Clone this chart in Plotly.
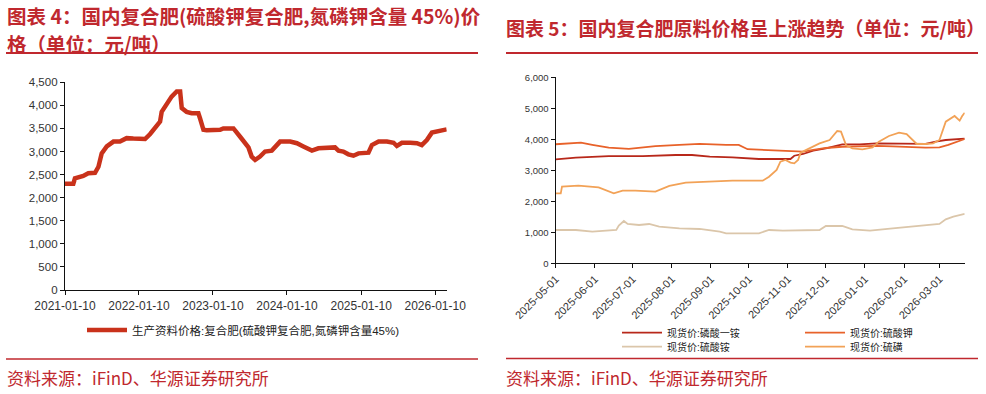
import plotly.graph_objects as go

# ---------------- data ----------------
left_dates = ["2021-01-10", "2021-02-20", "2021-02-28", "2021-04-10", "2021-05-05", "2021-06-07",
              "2021-06-24", "2021-07-02", "2021-07-10", "2021-08-04", "2021-09-06", "2021-10-08",
              "2021-11-10", "2021-12-13", "2022-02-09", "2022-03-06", "2022-04-07", "2022-04-24",
              "2022-05-02", "2022-05-19", "2022-06-04", "2022-06-20", "2022-07-15", "2022-08-01",
              "2022-08-09", "2022-09-02", "2022-09-27", "2022-10-30", "2022-11-07", "2022-11-24",
              "2022-12-10", "2023-02-14", "2023-03-02", "2023-04-21", "2023-05-24", "2023-06-26",
              "2023-07-04", "2023-07-20", "2023-08-06", "2023-08-30", "2023-09-24", "2023-10-27",
              "2023-11-21", "2023-12-07", "2024-01-26", "2024-02-28", "2024-03-31", "2024-05-12",
              "2024-06-13", "2024-07-16", "2024-08-10", "2024-09-03", "2024-09-20", "2024-10-14",
              "2024-11-08", "2024-12-03", "2024-12-28", "2025-01-30", "2025-02-15", "2025-03-04",
              "2025-04-06", "2025-05-17", "2025-06-19", "2025-07-05", "2025-07-30", "2025-09-09",
              "2025-10-12", "2025-11-05", "2025-11-30", "2025-12-25", "2026-01-18", "2026-02-12",
              "2026-03-08"]
left_values = [2300, 2300, 2420, 2470, 2530, 2540,
               2670, 2820, 2960, 3110, 3215, 3215,
               3290, 3280, 3270, 3380, 3540, 3650,
               3860, 3970, 4050, 4190, 4300, 4300,
               3940, 3860, 3830, 3830, 3720, 3470,
               3460, 3470, 3500, 3500, 3320, 3120,
               3090, 2890, 2820, 2890, 3000, 3020,
               3120, 3215, 3215, 3180, 3110, 3020,
               3070, 3080, 3105, 3090, 3020, 3000,
               2940, 2910, 2960, 2975, 2975, 3140,
               3215, 3215, 3190, 3120, 3190, 3190,
               3180, 3140, 3250, 3410, 3430, 3470,
               3480]
left_name = "生产资料价格:复合肥(硫酸钾复合肥,氮磷钾含量45%)"
left_tick_vals = ["2021-01-10", "2022-01-10", "2023-01-10", "2024-01-10", "2025-01-10", "2026-01-10"]
left_tick_text = ["2021-01-10", "2022-01-10", "2023-01-10", "2024-01-10", "2025-01-10", "2026-01-10"]

map_dates = ["2025-05-01", "2025-05-17", "2025-06-12", "2025-07-09", "2025-08-04", "2025-08-17",
             "2025-08-31", "2025-09-18", "2025-10-09", "2025-10-23", "2025-11-03", "2025-11-06",
             "2025-11-13", "2025-11-21", "2025-12-01", "2025-12-14", "2025-12-28", "2026-01-10",
             "2026-01-23", "2026-02-05", "2026-02-18", "2026-02-26", "2026-03-06", "2026-03-21"]
map_values = [3354, 3408, 3460, 3460, 3494, 3494,
              3440, 3418, 3365, 3365, 3365, 3470,
              3526, 3633, 3709, 3838, 3838, 3870,
              3870, 3850, 3850, 3924, 3977, 4020]

sop_dates = ["2025-05-01", "2025-05-17", "2025-05-21", "2025-05-30", "2025-06-12", "2025-06-28",
             "2025-07-11", "2025-07-19", "2025-08-07", "2025-08-23", "2025-09-13", "2025-09-23",
             "2025-09-30", "2025-10-09", "2025-10-23", "2025-11-05", "2025-11-13", "2025-11-21",
             "2025-12-01", "2025-12-14", "2025-12-28", "2026-01-10", "2026-01-23", "2026-02-05",
             "2026-02-18", "2026-03-01", "2026-03-08", "2026-03-21"]
sop_values = [3840, 3890, 3890, 3820, 3730, 3690,
              3740, 3780, 3820, 3850, 3820, 3820,
              3680, 3660, 3630, 3600, 3600, 3660,
              3720, 3760, 3780, 3790, 3770, 3740,
              3730, 3740, 3820, 4010]

as_dates = ["2025-05-01", "2025-05-17", "2025-05-30", "2025-06-18", "2025-06-20", "2025-06-24",
            "2025-06-27", "2025-07-06", "2025-07-14", "2025-07-22", "2025-08-07", "2025-08-23",
            "2025-09-08", "2025-09-13", "2025-10-09", "2025-10-17", "2025-10-28", "2025-11-18",
            "2025-11-26", "2025-12-01", "2025-12-14", "2025-12-22", "2026-01-05", "2026-01-23",
            "2026-02-05", "2026-02-18", "2026-03-01", "2026-03-06", "2026-03-12", "2026-03-21"]
as_values = [1075, 1075, 1021, 1075, 1215, 1365,
             1268, 1236, 1268, 1182, 1129, 1107,
             1021, 968, 968, 1075, 1054, 1054,
             1075, 1204, 1204, 1096, 1054, 1129,
             1182, 1215, 1268, 1419, 1505, 1591]

s_dates = ["2025-05-01", "2025-05-05", "2025-05-06", "2025-05-19", "2025-06-04", "2025-06-12",
           "2025-06-16", "2025-06-23", "2025-07-03", "2025-07-19", "2025-07-30", "2025-08-12",
           "2025-08-31", "2025-09-18", "2025-10-12", "2025-10-17", "2025-10-23", "2025-10-26",
           "2025-10-30", "2025-11-03", "2025-11-06", "2025-11-09", "2025-11-11", "2025-11-18",
           "2025-11-26", "2025-12-04", "2025-12-10", "2025-12-13", "2025-12-17", "2025-12-22",
           "2025-12-30", "2026-01-07", "2026-01-12", "2026-01-20", "2026-01-28", "2026-02-03",
           "2026-02-11", "2026-02-18", "2026-02-24", "2026-03-01", "2026-03-06", "2026-03-13",
           "2026-03-17", "2026-03-19", "2026-03-21"]
s_values = [2257, 2257, 2473, 2505, 2451, 2311,
            2257, 2343, 2343, 2311, 2494, 2601,
            2634, 2666, 2666, 2795, 3010, 3279,
            3333, 3247, 3225, 3333, 3570, 3709,
            3870, 3978, 4268, 4247, 3816, 3709,
            3677, 3741, 3924, 4107, 4214, 4171,
            3849, 3849, 3870, 3978, 4569, 4752,
            4601, 4752, 4859]

right_names = ["现货价:磷酸一铵", "现货价:硫酸钾", "现货价:硫酸铵", "现货价:硫磺"]
right_tick_vals = ["2025-05-01", "2025-06-01", "2025-07-01", "2025-08-01", "2025-09-01", "2025-10-01",
                   "2025-11-01", "2025-12-01", "2026-01-01", "2026-02-01", "2026-03-01"]
right_tick_text = ["2025-05-01", "2025-06-01", "2025-07-01", "2025-08-01", "2025-09-01", "2025-10-01",
                   "2025-11-01", "2025-12-01", "2026-01-01", "2026-02-01", "2026-03-01"]

title_left_1 = "图表 4：国内复合肥(硫酸钾复合肥,氮磷钾含量 45%)价"
title_left_2 = "格（单位：元/吨）"
title_right = "图表 5：国内复合肥原料价格呈上涨趋势（单位：元/吨）"
source_text = "资料来源：iFinD、华源证券研究所"

# ---------------- figure ----------------
W, H = 986, 394
def px(x):
    return x / W
def py(y):
    return 1 - y / H

RED = "#C0282E"
FONT = "Liberation Sans, Arial, Noto Sans CJK SC, sans-serif"
CJK = "Noto Sans CJK SC, sans-serif"

fig = go.Figure()
fig.add_trace(go.Scatter(x=left_dates, y=left_values, mode="lines", name=left_name,
                         line=dict(color="#C9321B", width=4.5), xaxis="x", yaxis="y",
                         legend="legend"))

right_series = [(map_dates, map_values, "#B8281A", "legend2"),
                (sop_dates, sop_values, "#E8622A", "legend2"),
                (as_dates, as_values, "#DBC6AA", "legend3"),
                (s_dates, s_values, "#F2A257", "legend3")]
for (d, v, c, lg), nm in zip(right_series, right_names):
    fig.add_trace(go.Scatter(x=d, y=v, mode="lines", name=nm, line=dict(color=c, width=1.8),
                             xaxis="x2", yaxis="y2", legend=lg))

axis_common = dict(showline=True, linecolor="#111111", linewidth=1.3, ticks="outside",
                   tickcolor="#111111", ticklen=4, tickwidth=1.2, showgrid=False, zeroline=False,
                   automargin=False)

fig.update_layout(
    width=W, height=H, margin=dict(l=0, r=0, t=0, b=0, autoexpand=False),
    paper_bgcolor="white", plot_bgcolor="white",
    font=dict(family=FONT, color="#333333"),
    xaxis=dict(domain=[px(65), px(446.7)], range=["2021-01-10", "2026-03-08"], anchor="y",
               tickvals=left_tick_vals, ticktext=left_tick_text,
               tickfont=dict(size=12, color="#333333"), **axis_common),
    yaxis=dict(domain=[py(290), py(82.3)], range=[0, 4500], anchor="x", dtick=500,
               tickformat=",d", tickfont=dict(size=11.5, color="#333333"), **axis_common),
    xaxis2=dict(domain=[px(555.7), px(964.7)], range=["2025-05-01", "2026-03-21"], anchor="y2",
                tickvals=right_tick_vals, ticktext=right_tick_text, tickangle=-45,
                tickfont=dict(size=11, color="#333333"), **axis_common),
    yaxis2=dict(domain=[py(263.3), py(77.3)], range=[0, 6000], anchor="x2", dtick=1000,
                tickformat=",d", tickfont=dict(size=9.5, color="#333333"), **axis_common),
    legend=dict(orientation="h", x=px(82), y=py(330), xanchor="left", yanchor="middle",
                font=dict(size=11.5, color="#222222", family=FONT), bgcolor="rgba(0,0,0,0)",
                itemwidth=40),
    legend2=dict(orientation="h", x=px(617), y=py(332.7), xanchor="left", yanchor="middle",
                 font=dict(size=10, color="#222222", family=FONT), bgcolor="rgba(0,0,0,0)",
                 entrywidth=128, entrywidthmode="pixels", itemwidth=40),
    legend3=dict(orientation="h", x=px(617), y=py(346.7), xanchor="left", yanchor="middle",
                 font=dict(size=10, color="#222222", family=FONT), bgcolor="rgba(0,0,0,0)",
                 entrywidth=128, entrywidthmode="pixels", itemwidth=40),
    showlegend=True,
)

annotations = [
    dict(text=title_left_1, x=px(6), y=py(15.3), xanchor="left", yanchor="middle",
         font=dict(size=19.5, color=RED, family=CJK, weight="bold")),
    dict(text=title_left_2, x=px(6), y=py(43.8), xanchor="left", yanchor="middle",
         font=dict(size=19.5, color=RED, family=CJK, weight="bold")),
    dict(text=title_right, x=px(505), y=py(28), xanchor="left", yanchor="middle",
         font=dict(size=19, color=RED, family=CJK, weight="bold")),
    dict(text=source_text, x=px(6), y=py(377), xanchor="left", yanchor="middle",
         font=dict(size=17, color=RED, family=CJK)),
    dict(text=source_text, x=px(505), y=py(377), xanchor="left", yanchor="middle",
         font=dict(size=17, color=RED, family=CJK)),
]
for a in annotations:
    a.update(xref="paper", yref="paper", showarrow=False, borderpad=0)
fig.update_layout(annotations=annotations)

shapes = [
    dict(type="line", x0=px(6), x1=px(478), y0=py(53), y1=py(53), line=dict(color=RED, width=2)),
    dict(type="line", x0=px(506), x1=px(978), y0=py(53), y1=py(53), line=dict(color=RED, width=2)),
    dict(type="line", x0=px(6), x1=px(478), y0=py(359), y1=py(359), line=dict(color=RED, width=1.5)),
    dict(type="line", x0=px(506), x1=px(978), y0=py(358.5), y1=py(358.5), line=dict(color=RED, width=1.5)),
]
for s in shapes:
    s.update(xref="paper", yref="paper")
fig.update_layout(shapes=shapes)

fig.write_html("out.html", config={"displayModeBar": False},
               post_script="document.body.style.margin='0';")
